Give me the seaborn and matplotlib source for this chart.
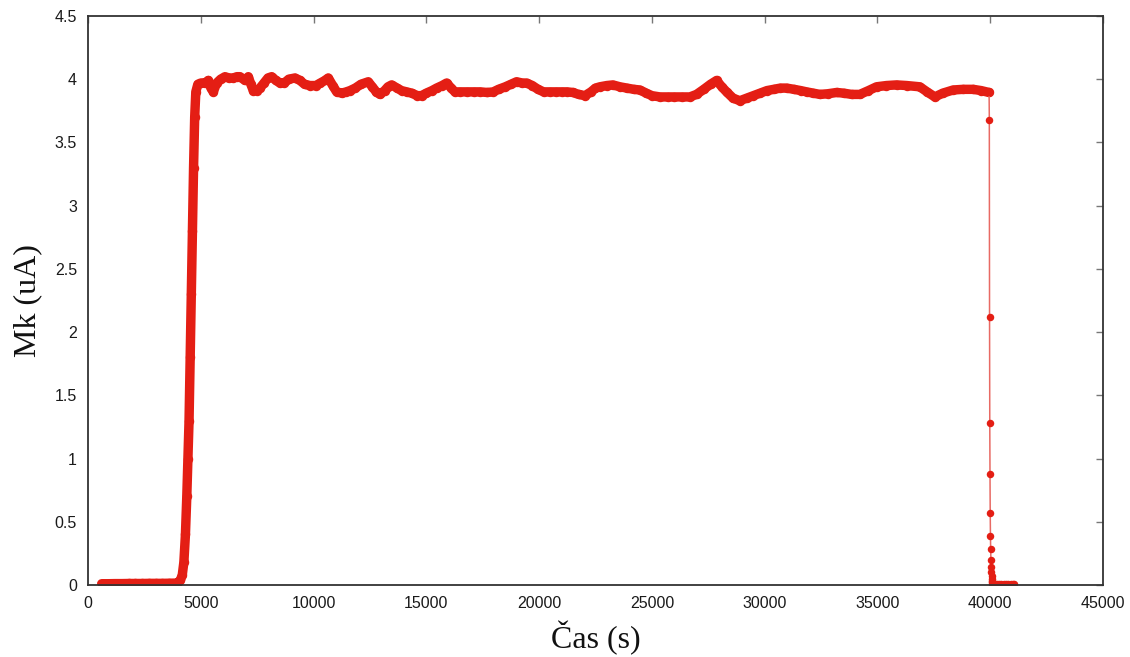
import matplotlib
matplotlib.use("Agg")
import matplotlib.pyplot as plt
import seaborn as sns
import numpy as np

# ---- data ----
base_t = [607, 900, 1200, 1500, 1800, 2100, 2400, 2700, 3000, 3300, 3600, 3900]
base_v = [0.010, 0.010, 0.011, 0.011, 0.012, 0.012, 0.012, 0.013, 0.013, 0.013, 0.014, 0.015]

rise_t = [4000, 4100, 4180, 4250, 4320, 4380, 4430, 4480, 4530, 4580, 4630, 4680, 4730, 4780, 4870]
rise_v = [0.02, 0.04, 0.08, 0.18, 0.40, 0.70, 1.00, 1.30, 1.80, 2.30, 2.80, 3.30, 3.70, 3.90, 3.96]

plat_t = [5000, 5186, 5333, 5450, 5555, 5704, 5880, 6073, 6250, 6442, 6600, 6738, 6960, 7107,
          7220, 7329, 7480, 7624, 7800, 7980, 8143, 8330, 8511, 8700, 8900, 9176, 9400, 9600,
          9840, 10100, 10300, 10500, 10652, 10850, 11024, 11250, 11450, 11613, 11850, 12100,
          12426, 12600, 12780, 12943, 13150, 13300, 13460, 13700, 13900, 14126, 14350, 14600,
          14790, 15000, 15250, 15456, 15700, 15900, 16100, 16268, 16500, 16800, 17100, 17400,
          17700, 17967, 18200, 18500, 18750, 19000, 19250, 19446, 19700, 19950, 20200, 20478,
          20750, 21000, 21250, 21500, 21750, 22030, 22300, 22500, 22695, 23000, 23271, 23582,
          23900, 24200, 24468, 24750, 25000, 25355, 25700, 26000, 26350, 26684, 26980, 27300,
          27600, 27867, 28100, 28310, 28600, 28900, 29200, 29500, 29787, 30100, 30400, 30700,
          30970, 31300, 31600, 31856, 32150, 32447, 32800, 33186, 33500, 33850, 34220, 34600,
          34959, 35400, 35846, 36300, 36880, 37200, 37545, 37900, 38357, 38800, 39244, 39600,
          39950]
plat_v = [3.97, 3.97, 3.99, 3.93, 3.90, 3.97, 4.00, 4.02, 4.01, 4.01, 4.02, 4.02, 3.99, 4.02,
          3.96, 3.91, 3.91, 3.93, 3.97, 4.01, 4.02, 3.99, 3.97, 3.97, 4.00, 4.01, 3.99, 3.96,
          3.95, 3.95, 3.97, 3.99, 4.01, 3.95, 3.90, 3.89, 3.90, 3.91, 3.93, 3.96,
          3.98, 3.94, 3.90, 3.88, 3.91, 3.94, 3.955, 3.93, 3.91, 3.90, 3.89, 3.87,
          3.87, 3.89, 3.91, 3.93, 3.95, 3.97, 3.93, 3.90, 3.90, 3.90, 3.90, 3.90,
          3.895, 3.90, 3.92, 3.94, 3.96, 3.98, 3.97, 3.97, 3.95, 3.92, 3.90, 3.90,
          3.90, 3.90, 3.90, 3.895, 3.88, 3.87, 3.90, 3.93, 3.94, 3.95, 3.955, 3.94,
          3.93, 3.92, 3.915, 3.89, 3.87, 3.86, 3.86, 3.86, 3.86, 3.86, 3.88, 3.92,
          3.96, 3.99, 3.94, 3.90, 3.85, 3.83, 3.85, 3.87, 3.89, 3.91, 3.92, 3.93,
          3.93, 3.92, 3.91, 3.90, 3.89, 3.88, 3.885, 3.895, 3.89, 3.88, 3.88, 3.91,
          3.94, 3.95, 3.955, 3.95, 3.94, 3.90, 3.86, 3.89, 3.915, 3.92, 3.92, 3.91,
          3.895]

drop_t = [39950, 39960, 39970, 39980, 39990, 40000, 40010, 40020, 40030, 40040, 40050, 40060,
          40070, 40080, 40090, 40100, 40200, 40300, 40400, 40500, 40600, 40700, 40800, 40900,
          41000, 41050]
drop_v = [3.895, 3.68, 2.12, 1.28, 0.88, 0.57, 0.39, 0.285, 0.20, 0.14, 0.10, 0.07,
          0.05, 0.03, 0.02, 0.01, 0.005, 0.005, 0.005, 0.005, 0.005, 0.005, 0.005, 0.005,
          0.005, 0.005]

x_ticks = [0, 5000, 10000, 15000, 20000, 25000, 30000, 35000, 40000, 45000]
y_ticks = [0, 0.5, 1, 1.5, 2, 2.5, 3, 3.5, 4, 4.5]
y_tick_labels = ["0", "0.5", "1", "1.5", "2", "2.5", "3", "3.5", "4", "4.5"]

RED = "#e41e14"

sns.set_style("white")
plt.rcParams["font.family"] = ["Liberation Sans", "DejaVu Sans"]

fig = plt.figure(figsize=(11.3, 6.57), dpi=100)
ax = fig.add_axes([88 / 1130, 1 - 585 / 657, (1103 - 88) / 1130, (585 - 16) / 657])

main_t = base_t + rise_t + plat_t
main_v = base_v + rise_v + plat_v

sns.lineplot(x=main_t, y=main_v, ax=ax, sort=False, estimator=None, color=RED,
             linewidth=6.8, marker="o", markersize=6.8, markeredgewidth=0,
             solid_capstyle="round", solid_joinstyle="round")
sns.lineplot(x=drop_t, y=drop_v, ax=ax, sort=False, estimator=None, color=RED,
             linewidth=1.1, alpha=1.0, marker="o", markersize=5.4, markeredgewidth=0)
# lighten the thin connecting line as in the reference
ax.lines[-1].set_color("#e86a64")
ax.lines[-1].set_markerfacecolor(RED)

ax.set_xlim(0, 45000)
ax.set_ylim(0, 4.5)
ax.set_xticks(x_ticks)
ax.set_xticklabels([str(v) for v in x_ticks])
ax.set_yticks(y_ticks)
ax.set_yticklabels(y_tick_labels)

ax.tick_params(direction="in", length=5, width=1, color="#777777", top=True, right=True,
               labelsize=11.5, labelcolor="#1a1a1a", pad=8)
for s in ax.spines.values():
    s.set_color("#333333")
    s.set_linewidth(1.3)
    s.set_visible(True)

ax.set_xlabel("Čas (s)", fontsize=23, family=["Liberation Serif", "DejaVu Serif"], color="#111111")
ax.set_ylabel("Mk (uA)", fontsize=23, family=["Liberation Serif", "DejaVu Serif"], color="#111111")
ax.xaxis.label.set_va("center")
ax.yaxis.label.set_va("center")
ax.xaxis.set_label_coords(0.5, -0.093)
ax.yaxis.set_label_coords(-0.059, 0.5)

fig.savefig("out.png", dpi=100, facecolor="white")
